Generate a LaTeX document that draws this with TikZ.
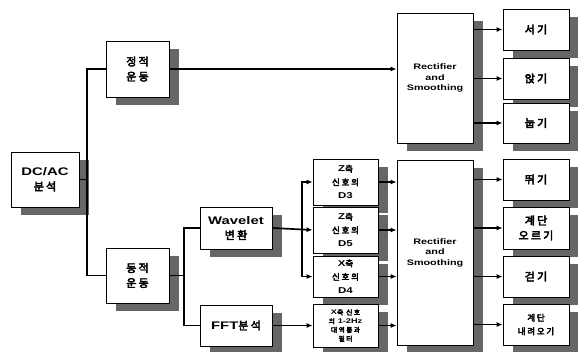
\documentclass[tikz,border=0pt]{standalone}
\usepackage{fontspec}
\newfontfamily\kr{Noto Sans CJK KR}[FakeBold=4,LetterSpace=20]
\newfontfamily\lat{Liberation Sans Bold}[FakeStretch=1.35]
\usetikzlibrary{arrows.meta,shadows}
\begin{document}
\begin{tikzpicture}[x=1pt,y=-1pt,
  box/.style={draw, line width=0.8pt, fill=white, inner sep=0pt, align=center,
    drop shadow={shadow xshift=10pt, shadow yshift=-8pt, fill=black!60, opacity=1}},
  big/.style={font=\fontsize{11}{15}\selectfont},
  mid/.style={font=\fontsize{8.5}{13.5}\selectfont},
  tiny/.style={font=\fontsize{6.8}{8.8}\selectfont},
  rect/.style={font=\fontsize{8}{10.5}\selectfont},
  conn/.style={line width=1.7pt},
  arr/.style={conn, -{Latex[length=6pt,width=5pt]}}]
\useasboundingbox (0,0) rectangle (578,351);
% left column
\node[box, big, minimum width=68pt, minimum height=55pt] (dcac) at (45,179.5) {{\lat DC/AC}\\{\kr 분석}};
\node[box, big, minimum width=63pt, minimum height=56pt] (jeong) at (137.5,69) {{\kr 정적}\\{\kr 운동}};
\node[box, big, minimum width=63pt, minimum height=55pt] (dong) at (137.5,275.5) {{\kr 동적}\\{\kr 운동}};
% analysis
\node[box, big, minimum width=72pt, minimum height=42pt] (wav) at (236,228) {{\lat Wavelet}\\{\kr 변환}};
\node[box, big, minimum width=72pt, minimum height=41pt] (fft) at (236,325.5) {{\lat FFT}{\kr 분석}};
% features
\node[box, mid, minimum width=65pt, minimum height=46pt] (d3) at (345.5,182) {{\lat Z}{\kr 축}\\{\kr 신호의}\\{\lat D3}};
\node[box, mid, minimum width=65pt, minimum height=46pt] (d5) at (345.5,230) {{\lat Z}{\kr 축}\\{\kr 신호의}\\{\lat D5}};
\node[box, mid, minimum width=65pt, minimum height=41pt] (d4) at (345.5,276.5) {{\lat X}{\kr 축}\\{\kr 신호의}\\{\lat D4}};
\node[box, tiny, minimum width=65pt, minimum height=43pt] (xf) at (345.5,325.5) {{\lat X}{\kr 축 신호}\\{\kr 의 }{\lat 1-2Hz}\\{\kr 대역통과}\\{\kr 필터}};
% rectifiers
\node[box, rect, minimum width=76pt, minimum height=130pt] (r1) at (435,78) {{\lat Rectifier}\\{\lat and}\\{\lat Smoothing}};
\node[box, rect, minimum width=76pt, minimum height=185pt] (r2) at (435,252.5) {{\lat Rectifier}\\{\lat and}\\{\lat Smoothing}};
% outputs
\node[box, big, minimum width=66pt, minimum height=41pt] (o1) at (536,29.5) {\kr 서기};
\node[box, big, minimum width=66pt, minimum height=41pt] (o2) at (536,78.5) {\kr 앉기};
\node[box, big, minimum width=66pt, minimum height=40pt] (o3) at (536,123) {\kr 눕기};
\node[box, big, minimum width=66pt, minimum height=41pt] (o4) at (536,179.5) {\kr 뛰기};
\node[box, big, minimum width=66pt, minimum height=42pt] (o5) at (536,228) {{\kr 계단}\\{\kr 오르기}};
\node[box, big, minimum width=66pt, minimum height=41pt] (o6) at (536,276.5) {\kr 걷기};
\node[box, mid, minimum width=66pt, minimum height=41pt] (o7) at (536,324.5) {{\kr 계단}\\{\kr 내려오기}};
% junctions
\coordinate (j1) at (87,179.5);
\coordinate (j2) at (184,275.5);
\coordinate (j3) at (302,228);
% connectors
\draw[conn] (dcac.east) -- (j1);
\draw[conn] (jeong.west) -| (j1) |- (dong.west);
\draw[arr] (jeong.east) -- (jeong.east -| r1.west);
\draw[conn] (dong.east) -- (j2);
\draw[conn] (wav.west) -| (j2) |- (fft.west);
\draw[arr] (wav.east) -- (d5.west);
\draw[arr] (j3) |- (d3.west);
\draw[arr] (j3) |- (d4.west);
\draw[arr] (fft.east) -- (xf.west);
\foreach \n in {d3,d5,d4,xf} \draw[arr] (\n.east) -- (\n.east -| r2.west);
\foreach \n in {o1,o2,o3} \draw[arr] (r1.east |- \n.west) -- (\n.west);
\foreach \n in {o4,o5,o6,o7} \draw[arr] (r2.east |- \n.west) -- (\n.west);
\end{tikzpicture}
\end{document}
